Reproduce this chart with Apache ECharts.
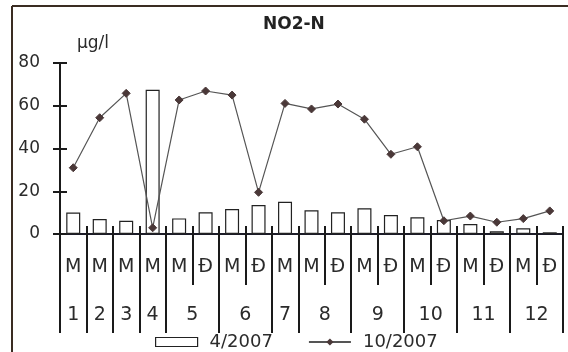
<!DOCTYPE html>
<html>
<head>
<meta charset="utf-8">
<script src="https://cdn.jsdelivr.net/npm/echarts@6/dist/echarts.min.js"></script>
<style>html,body{margin:0;padding:0;background:#fff;}#c{width:568px;height:352px;}</style>
</head>
<body>
<div id="c"></div>
<script>
// Sub-category labels (one per bar / point)
const subLabels = ['M','M','M','M','M','Đ','M','Đ','M','M','Đ','M','Đ','M','Đ','M','Đ','M','Đ'];
// Group labels and how many sub-categories each group spans
const groupLabels = ['1','2','3','4','5','6','7','8','9','10','11','12'];
const groupSizes = [1,1,1,1,2,2,1,2,2,2,2,2];
// Series values
const bars2007_04 = [10.0,7.0,6.2,67.5,7.3,10.2,11.7,13.6,15.1,11.1,10.2,12.0,8.9,7.8,6.5,4.7,1.3,2.7,0.8];
const line2007_10 = [31.0,54.4,65.8,2.9,62.7,66.9,65.0,19.5,61.1,58.5,60.8,53.7,37.3,40.8,6.2,8.4,5.5,7.2,10.8];
// Y tick values
const yTicks = [0,20,40,60,80];

// Build half-step axis for group labels / long separators
const nHalf = subLabels.length * 2 + 1;
const halfLabels = new Array(nHalf).fill('');
const boundarySet = new Set();
let pos = 0;
boundarySet.add(0);
groupLabels.forEach((g, i) => {
  halfLabels[pos * 2 + groupSizes[i]] = g;
  pos += groupSizes[i];
  boundarySet.add(pos * 2);
});
const halfCats = halfLabels.map((l, i) => ({ value: 'h' + i }));

const FONT = 'DejaVu Sans';
const TXT = '#2b2b2b';
const chart = echarts.init(document.getElementById('c'), null, { renderer: 'canvas' });
chart.setOption({
  backgroundColor: '#ffffff',
  animation: false,
  title: {
    text: 'NO2-N', left: 263, top: 16, padding: 0,
    textStyle: { fontFamily: FONT, fontWeight: 'bold', fontSize: 17, color: '#222' }
  },
  grid: { left: 60, right: 5, top: 63, bottom: 118, containLabel: false },
  legend: {
    left: 155, top: 333, padding: 0, itemWidth: 42, itemHeight: 9, itemGap: 35,
    textStyle: { fontFamily: FONT, fontSize: 18, color: TXT, padding: [0, 0, 0, 7] },
    data: [
      { name: '4/2007', icon: 'rect', itemStyle: { color: '#fff', borderColor: '#222', borderWidth: 1.2 } },
      { name: '10/2007' }
    ]
  },
  xAxis: [
    {
      type: 'category', data: subLabels, boundaryGap: true, position: 'bottom',
      axisLine: { show: true, lineStyle: { color: '#1c1c28', width: 2 } },
      axisTick: { show: true, length: 51, inside: false, lineStyle: { color: '#1a1a1a', width: 2 } },
      axisLabel: { interval: 0, margin: 24, fontFamily: FONT, fontSize: 19, color: TXT },
      splitLine: { show: false }
    },
    {
      type: 'category', data: halfCats, boundaryGap: false, position: 'bottom',
      axisLine: { show: false },
      axisTick: { show: true, length: 99, interval: (idx) => boundarySet.has(idx), lineStyle: { color: '#1a1a1a', width: 2 } },
      axisLabel: { interval: 0, margin: 72, fontFamily: FONT, fontSize: 19, color: TXT,
        formatter: (v, idx) => halfLabels[idx] },
      splitLine: { show: false }
    },
    {
      type: 'category', data: subLabels, boundaryGap: true, position: 'bottom',
      axisLine: { show: false },
      axisTick: { show: true, inside: true, length: 8, lineStyle: { color: '#1a1a1a', width: 2 } },
      axisLabel: { show: false },
      splitLine: { show: false }
    }
  ],
  yAxis: [
    {
      type: 'value', min: yTicks[0], max: yTicks[yTicks.length - 1], interval: 20, position: 'left',
      axisLine: { show: true, lineStyle: { color: '#1a1a1a', width: 2 } },
      axisTick: { show: true, length: 7, lineStyle: { color: '#1a1a1a', width: 2 } },
      axisLabel: { margin: 20, fontFamily: FONT, fontSize: 17, color: TXT },
      splitLine: { show: false }
    },
    {
      type: 'value', min: yTicks[0], max: yTicks[yTicks.length - 1], interval: 20, position: 'left',
      axisLine: { show: false },
      axisTick: { show: true, inside: true, length: 7, lineStyle: { color: '#1a1a1a', width: 2 } },
      axisLabel: { show: false },
      splitLine: { show: false }
    }
  ],
  graphic: [
    { type: 'text', left: 77, top: 35, style: { text: 'μg/l', font: '17px "DejaVu Sans"', fill: TXT } },
    { type: 'line', shape: { x1: 12, y1: 6, x2: 568, y2: 6 }, style: { stroke: '#3a2c22', lineWidth: 2 } },
    { type: 'line', shape: { x1: 12, y1: 6, x2: 12, y2: 352 }, style: { stroke: '#3a2c22', lineWidth: 2 } }
  ],
  series: [
    {
      name: '4/2007', type: 'bar', data: bars2007_04, barWidth: 14,
      itemStyle: { color: '#ffffff', borderColor: '#222', borderWidth: 1.2 }
    },
    {
      name: '10/2007', type: 'line', data: line2007_10,
      symbol: 'diamond', symbolSize: 8, showSymbol: true,
      lineStyle: { color: '#555', width: 1.2 },
      itemStyle: { color: '#4a3838', borderColor: '#4a3838' }
    }
  ]
});
</script>
</body>
</html>
